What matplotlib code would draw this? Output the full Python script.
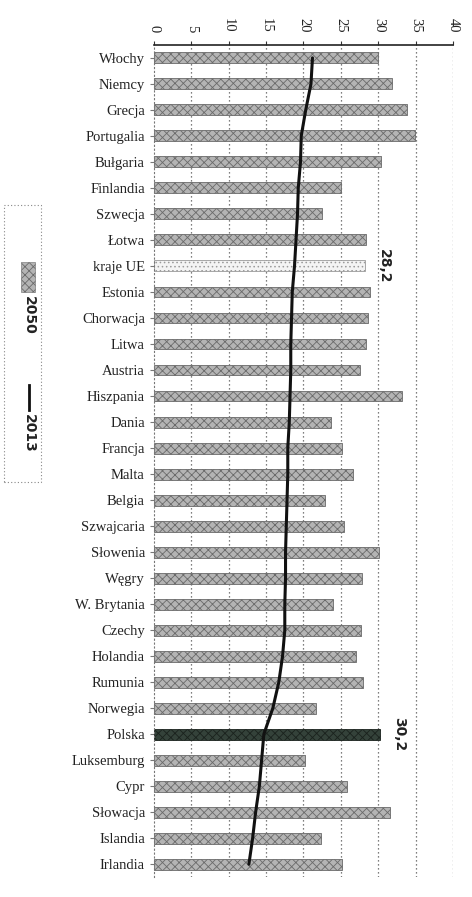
import matplotlib
matplotlib.use("Agg")
import matplotlib.pyplot as plt
from matplotlib.patches import Rectangle
from matplotlib.lines import Line2D
import numpy as np

categories = ["Włochy", "Niemcy", "Grecja", "Portugalia", "Bułgaria", "Finlandia",
              "Szwecja", "Łotwa", "kraje UE", "Estonia", "Chorwacja", "Litwa",
              "Austria", "Hiszpania", "Dania", "Francja", "Malta", "Belgia",
              "Szwajcaria", "Słowenia", "Węgry", "W. Brytania", "Czechy", "Holandia",
              "Rumunia", "Norwegia", "Polska", "Luksemburg", "Cypr", "Słowacja",
              "Islandia", "Irlandia"]
v2050 = [30.0, 31.8, 33.9, 34.9, 30.3, 25.0, 22.5, 28.4, 28.2, 28.9, 28.6, 28.4,
         27.5, 33.2, 23.7, 25.2, 26.6, 22.9, 25.4, 30.1, 27.8, 24.0, 27.7, 27.0,
         28.0, 21.7, 30.2, 20.2, 25.8, 31.6, 22.4, 25.2]
v2013 = [21.2, 21.0, 20.3, 19.7, 19.6, 19.3, 19.2, 19.0, 18.8, 18.5, 18.4, 18.3,
         18.3, 18.2, 18.1, 17.9, 17.9, 17.8, 17.7, 17.6, 17.6, 17.5, 17.5, 17.2,
         16.7, 15.9, 14.7, 14.4, 14.1, 13.6, 13.2, 12.7]
xticks = [0, 5, 10, 15, 20, 25, 30, 35, 40]
annotations = {"kraje UE": "28,2", "Polska": "30,2"}
series_names = ["2050", "2013"]

plt.rcParams['hatch.linewidth'] = 0.6
fig = plt.figure(figsize=(4.72, 8.97), dpi=100)
ax = fig.add_axes([0.326, 0.022, 0.634, 0.928])

y = np.arange(len(categories))
for i, (c, v) in enumerate(zip(categories, v2050)):
    if c == "Polska":
        fc, ec, h = "#34423a", "#1a221d", "xxxx"
    elif c == "kraje UE":
        fc, ec, h = "#f4f4f4", "#9a9a9a", "...."
    else:
        fc, ec, h = "#b4b4b4", "#6a6a6a", "xxxx"
    ax.barh(y[i], v, height=0.42, color=fc, edgecolor=ec, hatch=h, linewidth=0.6, zorder=2)

ax.plot(v2013, y, color="#111111", linewidth=2.2, zorder=4, solid_capstyle="round")

for c, txt in annotations.items():
    i = categories.index(c)
    ax.text(v2050[i] + 2.6, y[i], txt, rotation=270, ha="center", va="center",
            fontsize=10, fontweight="bold", family="DejaVu Sans", color="#222222")

ax.set_xlim(0, 40)
ax.set_ylim(len(categories) - 0.5, -0.5)
ax.set_yticks(y)
ax.set_yticklabels(categories, family="Liberation Serif", fontsize=10.5, color="#222222")
ax.xaxis.tick_top()
ax.set_xticks(xticks)
ax.set_xticklabels([str(t) for t in xticks], rotation=270, family="Liberation Serif",
                   fontsize=10.5, color="#222222")
ax.tick_params(axis="x", length=3, pad=6, color="#333333")
ax.tick_params(axis="y", length=3, color="#777777")
for t in xticks[1:]:
    ax.axvline(t, color="#555555", linestyle=(0, (1, 2.2)), linewidth=0.9, zorder=1)
ax.spines["top"].set_color("#222222")
ax.spines["top"].set_linewidth(1.2)
ax.spines["right"].set_visible(False)
ax.spines["bottom"].set_visible(False)
ax.spines["left"].set_linestyle((0, (1, 2.5)))
ax.spines["left"].set_color("#777777")

# legend (rotated, manual)
fig.patches.append(Rectangle((0.008, 1 - 482 / 897), 0.078, (482 - 205) / 897,
                             transform=fig.transFigure, fill=False, edgecolor="#888888",
                             linestyle=(0, (1, 2)), linewidth=0.8))
fig.patches.append(Rectangle((0.045, 1 - 292 / 897), 0.030, 30 / 897,
                             transform=fig.transFigure, facecolor="#b4b4b4",
                             edgecolor="#6a6a6a", hatch="xxxx", linewidth=0.4))
fig.text(0.062, 1 - 315 / 897, series_names[0], rotation=270, ha="center", va="center",
         fontsize=10, fontweight="bold", family="DejaVu Sans", color="#222222")
fig.lines.append(Line2D([0.062, 0.062], [1 - 385 / 897, 1 - 410 / 897],
                        transform=fig.transFigure, color="#111111", linewidth=2))
fig.text(0.062, 1 - 433 / 897, series_names[1], rotation=270, ha="center", va="center",
         fontsize=10, fontweight="bold", family="DejaVu Sans", color="#222222")

fig.savefig("out.png", dpi=100)
